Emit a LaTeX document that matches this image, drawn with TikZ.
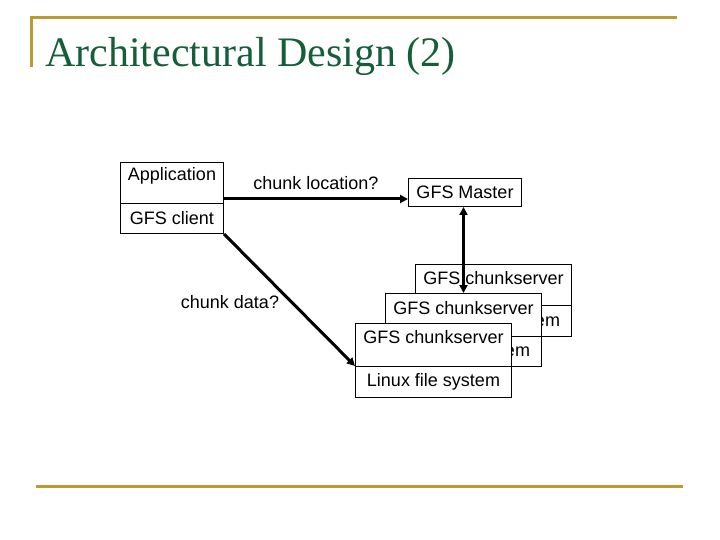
\documentclass[tikz,border=0pt]{standalone}
\usepackage{fontspec}
\setmainfont{Liberation Sans}
\newfontfamily\titlefont{Liberation Serif}
\usetikzlibrary{arrows.meta,calc}
\definecolor{gold}{RGB}{185,155,50}
\definecolor{titlegreen}{RGB}{22,94,58}
\begin{document}
\begin{tikzpicture}[x=1pt,y=-1pt,
  box/.style={draw=black,line width=1pt,fill=white,inner sep=0pt,anchor=north west},
  txt/.style={inner sep=0pt,font=\fontsize{18}{21}\selectfont},
  goldline/.style={draw=gold,line width=3pt},
  conn/.style={line width=3pt,-{Triangle[length=8pt,width=8pt]}}]
\useasboundingbox (0,0) rectangle (720,540);
% decorations
\coordinate (tl) at (30,18);
\coordinate (tr) at (677,18);
\coordinate (tv) at (31,67);
\coordinate (bl) at (36,486);
\coordinate (br) at (683,486);
\draw[goldline] (tl) -- (tr);
\draw[goldline] ($(tl)+(1,0)$) -- (tv);
\draw[goldline] (bl) -- (br);
\node[anchor=base west,inner sep=0pt,text=titlegreen,font=\titlefont\fontsize{42}{46}\selectfont] (title) at (45,67) {Architectural Design (2)};
% client
\node[box,minimum width=103pt,minimum height=41pt] (app) at (120,162) {};
\node[box,minimum width=103pt,minimum height=30pt] (cli) at (120,203) {};
\node[txt] (apptxt) at ([yshift=-14pt]app.north) {Application};
\node[txt] (clitxt) at (cli.center) {GFS client};
% master
\node[box,minimum width=113pt,minimum height=28pt] (master) at (408,178) {};
\node[txt] (mastertxt) at (master.center) {GFS Master};
% back chunkserver
\node[box,minimum width=156pt,minimum height=41pt] (b1) at (415,264) {};
\node[box,minimum width=156pt,minimum height=31pt] (b2) at (415,305) {};
\node[txt] (b1txt) at ([yshift=-14pt]b1.north) {GFS chunkserver};
\node[txt] (b2txt) at ([yshift=-1pt]b2.center) {Linux file system};
% middle chunkserver
\node[box,minimum width=156pt,minimum height=43pt] (m1) at (385,293) {};
\node[box,minimum width=156pt,minimum height=30pt] (m2) at (385,336) {};
\node[txt] (m1txt) at ([yshift=-15pt]m1.north) {GFS chunkserver};
\node[txt] (m2txt) at (m2.center) {Linux file system};
% front chunkserver
\node[box,minimum width=156pt,minimum height=43pt] (f1) at (355,323) {};
\node[box,minimum width=156pt,minimum height=31pt] (f2) at (355,366) {};
\node[txt] (f1txt) at ([yshift=-14pt]f1.north) {GFS chunkserver};
\node[txt] (f2txt) at (f2.center) {Linux file system};
% labels
\node[txt] (loc) at (316,183) {chunk location?};
\node[txt] (data) at (230,302) {chunk data?};
% connectors
\draw[conn] ($(app.south east)+(0,-5)$) -- ($(master.south west)+(0,-8)$);
\draw[conn,{Triangle[length=8pt,width=8pt]}-{Triangle[length=8pt,width=8pt]}] (m1.north) -- (m1.north |- master.south);
\draw[conn] (cli.south east) -- (f2.north west);
\end{tikzpicture}
\end{document}
